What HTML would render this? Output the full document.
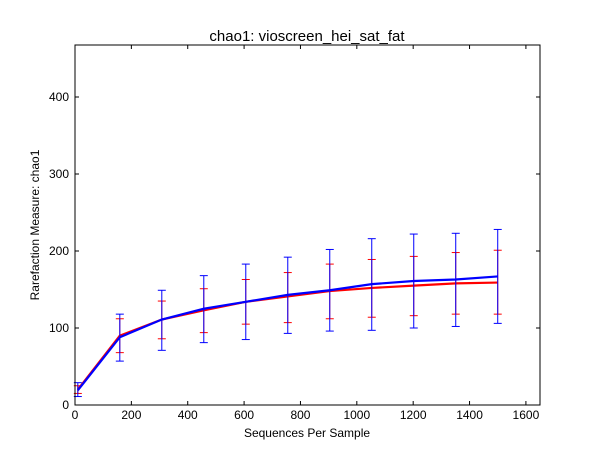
<!DOCTYPE html>
<html><head><meta charset="utf-8"><style>
body{margin:0;background:#fff;}
svg text{font-family:"Liberation Sans",sans-serif;}
</style></head><body>
<svg id="chart" width="600" height="450" xmlns="http://www.w3.org/2000/svg">
<rect width="600" height="450" fill="#fff"/>
<g id="marks"></g>
<rect x="75" y="45" width="465" height="360" fill="none" stroke="#000" stroke-width="1"/>
<g id="axes"></g>
<text x="307" y="41" font-size="15" text-anchor="middle">chao1: vioscreen_hei_sat_fat</text>
<text x="307" y="437" font-size="12" text-anchor="middle">Sequences Per Sample</text>
<text x="39" y="225" font-size="12" text-anchor="middle" transform="rotate(-90 39 225)">Rarefaction Measure: chao1</text>
</svg>
<script>
const depths=[10,159,308,457,606,755,904,1053,1202,1351,1500];
const redMean=[20,90,111,123,134,141,148,152,155,158,159];
const redLo=[15,68,86,94,105,107,112,114,116,118,118];
const redHi=[25,112,135,151,163,172,183,189,193,198,201];
const blueMean=[19,88,111,125,134,143,149,157,161,163,167];
const blueLo=[11,57,71,81,85,93,96,97,100,102,106];
const blueHi=[29,118,149,168,183,192,202,216,222,223,228];
const xTicks=[0,200,400,600,800,1000,1200,1400,1600];
const yTicks=[0,100,200,300,400];
const X=v=>75+v*465/1650, Y=v=>405-v*0.77;
const NS="http://www.w3.org/2000/svg";
const marks=document.getElementById('marks'), axes=document.getElementById('axes');
function mk(tag,attrs,parent){const e=document.createElementNS(NS,tag);for(const k in attrs)e.setAttribute(k,attrs[k]);parent.appendChild(e);return e;}
function series(mean,lo,hi,color,name){
  depths.forEach((d,i)=>{
    const x=X(d);
    const eb=mk('line',{x1:x,x2:x,y1:Y(lo[i]),y2:Y(hi[i]),stroke:color,'stroke-width':1},marks);
    
    
    [lo[i],hi[i]].forEach(v=>{
      const c=mk('line',{x1:x-4,x2:x+4,y1:Y(v),y2:Y(v),stroke:color,'stroke-width':1},marks);
      
      
    });
  });
  const p=mk('polyline',{points:depths.map((d,i)=>X(d)+','+Y(mean[i])).join(' '),fill:'none',stroke:color,'stroke-width':2.2},marks);
  
  
}
series(redMean,redLo,redHi,'#ff0000','red-series');
series(blueMean,blueLo,blueHi,'#0000ff','blue-series');
xTicks.forEach(t=>{
  const x=X(t);
  mk('line',{x1:x,x2:x,y1:405,y2:401,stroke:'#000'},axes);
  mk('line',{x1:x,x2:x,y1:45,y2:49,stroke:'#000'},axes);
  const tx=mk('text',{x:x,y:419,'font-size':12,'text-anchor':'middle'},axes);
  tx.textContent=t;
  
  
});
yTicks.forEach(t=>{
  const y=Y(t);
  mk('line',{x1:75,x2:79,y1:y,y2:y,stroke:'#000'},axes);
  mk('line',{x1:540,x2:536,y1:y,y2:y,stroke:'#000'},axes);
  const tx=mk('text',{x:69,y:y+4,'font-size':12,'text-anchor':'end'},axes);
  tx.textContent=t;
  
  
});
</script>
</body></html>
